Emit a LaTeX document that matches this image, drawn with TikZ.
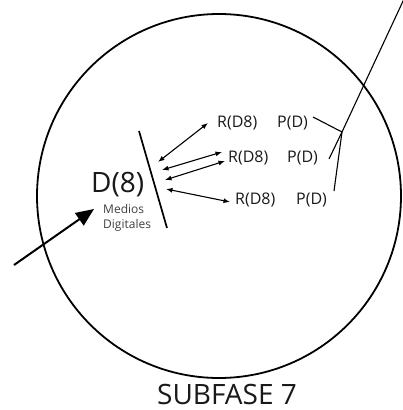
\documentclass[tikz,border=0pt]{standalone}
\usepackage{fontspec}
\setmainfont{Open Sans}
\usetikzlibrary{arrows.meta}
\tikzset{
  lbl/.style={inner sep=0pt, anchor=base west, font=\fontsize{16}{16}\selectfont, text=black!90},
  dbl/.style={{Latex[length=6.5pt,width=5pt]}-{Latex[length=6.5pt,width=5pt]}, line width=1.1pt},
  thin/.style={line width=1.1pt}
}
\begin{document}
\begin{tikzpicture}[x=1pt,y=-1pt]
\useasboundingbox (0,0) rectangle (403,410);
\draw[line width=1.8pt] (219,196) circle (182);
% D(8)
\node[inner sep=0pt, anchor=base west, font=\fontsize{28}{28}\selectfont, text=black!90] (d8) at (91,192) {D(8)};
\node[inner sep=0pt, anchor=base west, font=\fontsize{12}{12}\selectfont, text=black!75] (md1) at (103,213) {Medios};
\node[inner sep=0pt, anchor=base west, font=\fontsize{12}{12}\selectfont, text=black!75] (md2) at (103,228) {Digitales};
\coordinate (vt) at (139,131);
\coordinate (vb) at (167,228);
\draw[line width=1.7pt] (vt) -- (vb);
% labels
\node[lbl] (r1) at (217,127) {R(D8)};
\node[lbl] (p1) at (277,127) {P(D)};
\node[lbl] (r2) at (228,162) {R(D8)};
\node[lbl] (p2) at (287,162) {P(D)};
\node[lbl] (r3) at (235,204) {R(D8)};
\node[lbl] (p3) at (296,204) {P(D)};
% double arrows
\coordinate (a1s) at (158,162); \coordinate (a1e) at (208,123);
\coordinate (a2s) at (162,170); \coordinate (a2e) at (222,152);
\coordinate (a3s) at (165,180); \coordinate (a3e) at (225,161);
\coordinate (a4s) at (166,189); \coordinate (a4e) at (230,202);
\draw[dbl] (a1s) -- (a1e);
\draw[dbl] (a2s) -- (a2e);
\draw[dbl] (a3s) -- (a3e);
\draw[dbl] (a4s) -- (a4e);
% branch lines
\coordinate (top) at (404,-1);
\coordinate (br) at (342,132);
\coordinate (e1) at (313,117);
\coordinate (e2) at (329,159);
\coordinate (e3) at (334,191);
\draw[thin] (top) -- (br);
\draw[thin] (e1) -- (br) -- (e3);
\draw[thin] (br) -- (e2);
% big arrow
\coordinate (bs) at (14,265);
\coordinate (be) at (94,209);
\draw[line width=2pt, -{Triangle[length=18pt,width=15pt]}] (bs) -- (be);
% title
\node[inner sep=0pt, anchor=base, font=\fontsize{28}{28}\selectfont, text=black!90] (title) at (227,404) {SUBFASE 7};
\end{tikzpicture}
\end{document}
